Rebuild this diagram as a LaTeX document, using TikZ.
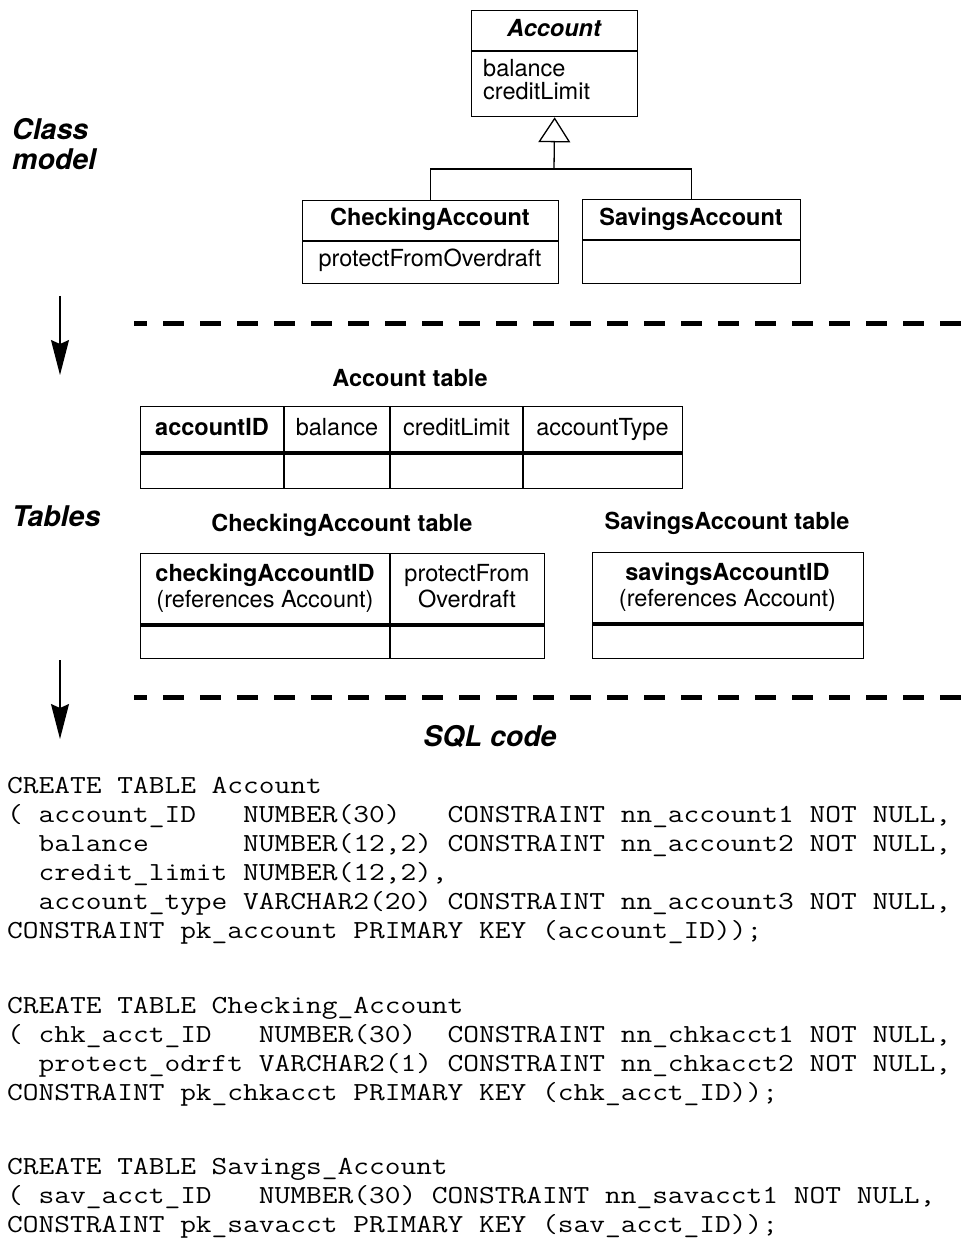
\documentclass[tikz,border=0pt]{standalone}
\usepackage{fontspec}
\setmainfont{TeX Gyre Heros}
\usetikzlibrary{arrows.meta}
\begin{document}
\begin{tikzpicture}[x=1pt,y=-1pt,
  txt/.style={inner sep=0pt, anchor=base, font=\fontsize{23.5}{23}\selectfont},
  btxt/.style={txt, font=\fontsize{23.5}{23}\selectfont\bfseries},
  bitxt/.style={txt, font=\fontsize{23.5}{23}\selectfont\bfseries\itshape},
  sectionlabel/.style={inner sep=0pt, font=\fontsize{28.5}{30}\selectfont\bfseries\itshape},
  umlbox/.style={draw, line width=1.3pt, inner sep=0pt, anchor=north west},
  thinline/.style={line width=1.3pt},
  keyrule/.style={line width=4.5pt},
  sepline/.style={line width=5pt, dash pattern=on 21pt off 16pt, dash phase=8pt},
  flow/.style={line width=1.3pt, -{Stealth[length=35pt,width=18pt,inset=4pt]}},
  isa/.style={line width=1.3pt, -{Triangle[open,length=25pt,width=32pt]}},
  sqlcode/.style={inner sep=0pt, anchor=base west, font=\fontsize{26}{29}\selectfont\ttfamily},
]
\useasboundingbox (0,0) rectangle (960,1238);

% ---------------- Class model ----------------
\node[sectionlabel, anchor=base west] (lblclass) at (12,140) {Class};
\node[sectionlabel, anchor=base west] (lblmodel) at (12,170) {model};

\node[umlbox, minimum width=166pt, minimum height=106pt] (acc) at (471,10) {};
\draw[thinline] (471,51) -- (637,51);
\node[bitxt] (accname) at (554,37) {Account};
\node[txt, anchor=base west] (accbal) at (483,77) {balance};
\node[txt, anchor=base west] (acclim) at (483,100) {creditLimit};

\node[umlbox, minimum width=256pt, minimum height=83pt] (ck) at (302,200) {};
\draw[thinline] (302,241) -- (558,241);
\node[btxt] (ckname) at (430,226) {CheckingAccount};
\node[txt] (ckattr) at (430,267) {protectFromOverdraft};

\node[umlbox, minimum width=218pt, minimum height=84pt] (sv) at (582,199) {};
\draw[thinline] (582,240) -- (800,240);
\node[btxt] (svname) at (691,226) {SavingsAccount};

% generalization
\coordinate (joint) at (554,169);
\draw[thinline] (ck.north) |- (joint) -| (sv.north);
\draw[isa] (joint) -- (acc.south);

% ---------------- separator / flow arrows ----------------
\coordinate (flow1top) at (60,296);
\coordinate (flow1end) at (60,375);
\draw[flow] (flow1top) -- (flow1end);
\coordinate (sep1l) at (134,323);
\coordinate (sep1r) at (962,323);
\draw[sepline] (sep1l) -- (sep1r);

% ---------------- Tables ----------------
\node[sectionlabel, anchor=base west] (lbltables) at (12,526) {Tables};

\node[btxt] (accthead) at (410,386) {Account table};
\node[umlbox, minimum width=542pt, minimum height=82pt] (accttab) at (140,406) {};
\draw[thinline] (284,406) -- (284,488);
\draw[thinline] (390,406) -- (390,488);
\draw[thinline] (523,406) -- (523,488);
\draw[keyrule] (140,453) -- (682,453);
\node[btxt] (colacctid) at (212,435) {accountID};
\node[txt] (colbal) at (337,435) {balance};
\node[txt] (colcred) at (456.5,435) {creditLimit};
\node[txt] (coltype) at (602.5,435) {accountType};

\node[btxt] (chkhead) at (342,531) {CheckingAccount table};
\node[umlbox, minimum width=404pt, minimum height=105pt] (chktab) at (140,553) {};
\draw[thinline] (390,553) -- (390,658);
\draw[keyrule] (140,625) -- (544,625);
\node[btxt] (chkid) at (265,581) {checkingAccountID};
\node[txt] (chkref) at (265,607) {(references Account)};
\node[txt] (chkprot1) at (467,581) {protectFrom};
\node[txt] (chkprot2) at (467,607) {Overdraft};

\node[btxt] (savhead) at (727,529) {SavingsAccount table};
\node[umlbox, minimum width=271pt, minimum height=106pt] (savtab) at (592,552) {};
\draw[keyrule] (592,624) -- (863,624);
\node[btxt] (savid) at (727.5,580) {savingsAccountID};
\node[txt] (savref) at (727.5,606) {(references Account)};

\coordinate (flow2top) at (60,660);
\coordinate (flow2end) at (60,739);
\draw[flow] (flow2top) -- (flow2end);
\coordinate (sep2l) at (134,697);
\coordinate (sep2r) at (962,697);
\draw[sepline] (sep2l) -- (sep2r);

% ---------------- SQL code ----------------
\node[sectionlabel, anchor=base] (lblsql) at (490,746) {SQL code};

\node[sqlcode] (sqlacct) at (7,793) {\scalebox{1.175}[1]{\begin{tabular}[t]{@{}l@{}}
CREATE TABLE Account\\
(~account\_ID~~~NUMBER(30)~~~CONSTRAINT nn\_account1 NOT NULL,\\
~~balance~~~~~~NUMBER(12,2) CONSTRAINT nn\_account2 NOT NULL,\\
~~credit\_limit NUMBER(12,2),\\
~~account\_type VARCHAR2(20) CONSTRAINT nn\_account3 NOT NULL,\\
CONSTRAINT pk\_account PRIMARY KEY (account\_ID));
\end{tabular}}};

\node[sqlcode] (sqlchk) at (7,1013) {\scalebox{1.175}[1]{\begin{tabular}[t]{@{}l@{}}
CREATE TABLE Checking\_Account\\
(~chk\_acct\_ID~~~NUMBER(30)~~CONSTRAINT nn\_chkacct1 NOT NULL,\\
~~protect\_odrft VARCHAR2(1) CONSTRAINT nn\_chkacct2 NOT NULL,\\
CONSTRAINT pk\_chkacct PRIMARY KEY (chk\_acct\_ID));
\end{tabular}}};

\node[sqlcode] (sqlsav) at (7,1174) {\scalebox{1.175}[1]{\begin{tabular}[t]{@{}l@{}}
CREATE TABLE Savings\_Account\\
(~sav\_acct\_ID~~~NUMBER(30) CONSTRAINT nn\_savacct1 NOT NULL,\\
CONSTRAINT pk\_savacct PRIMARY KEY (sav\_acct\_ID));
\end{tabular}}};
\end{tikzpicture}
\end{document}
